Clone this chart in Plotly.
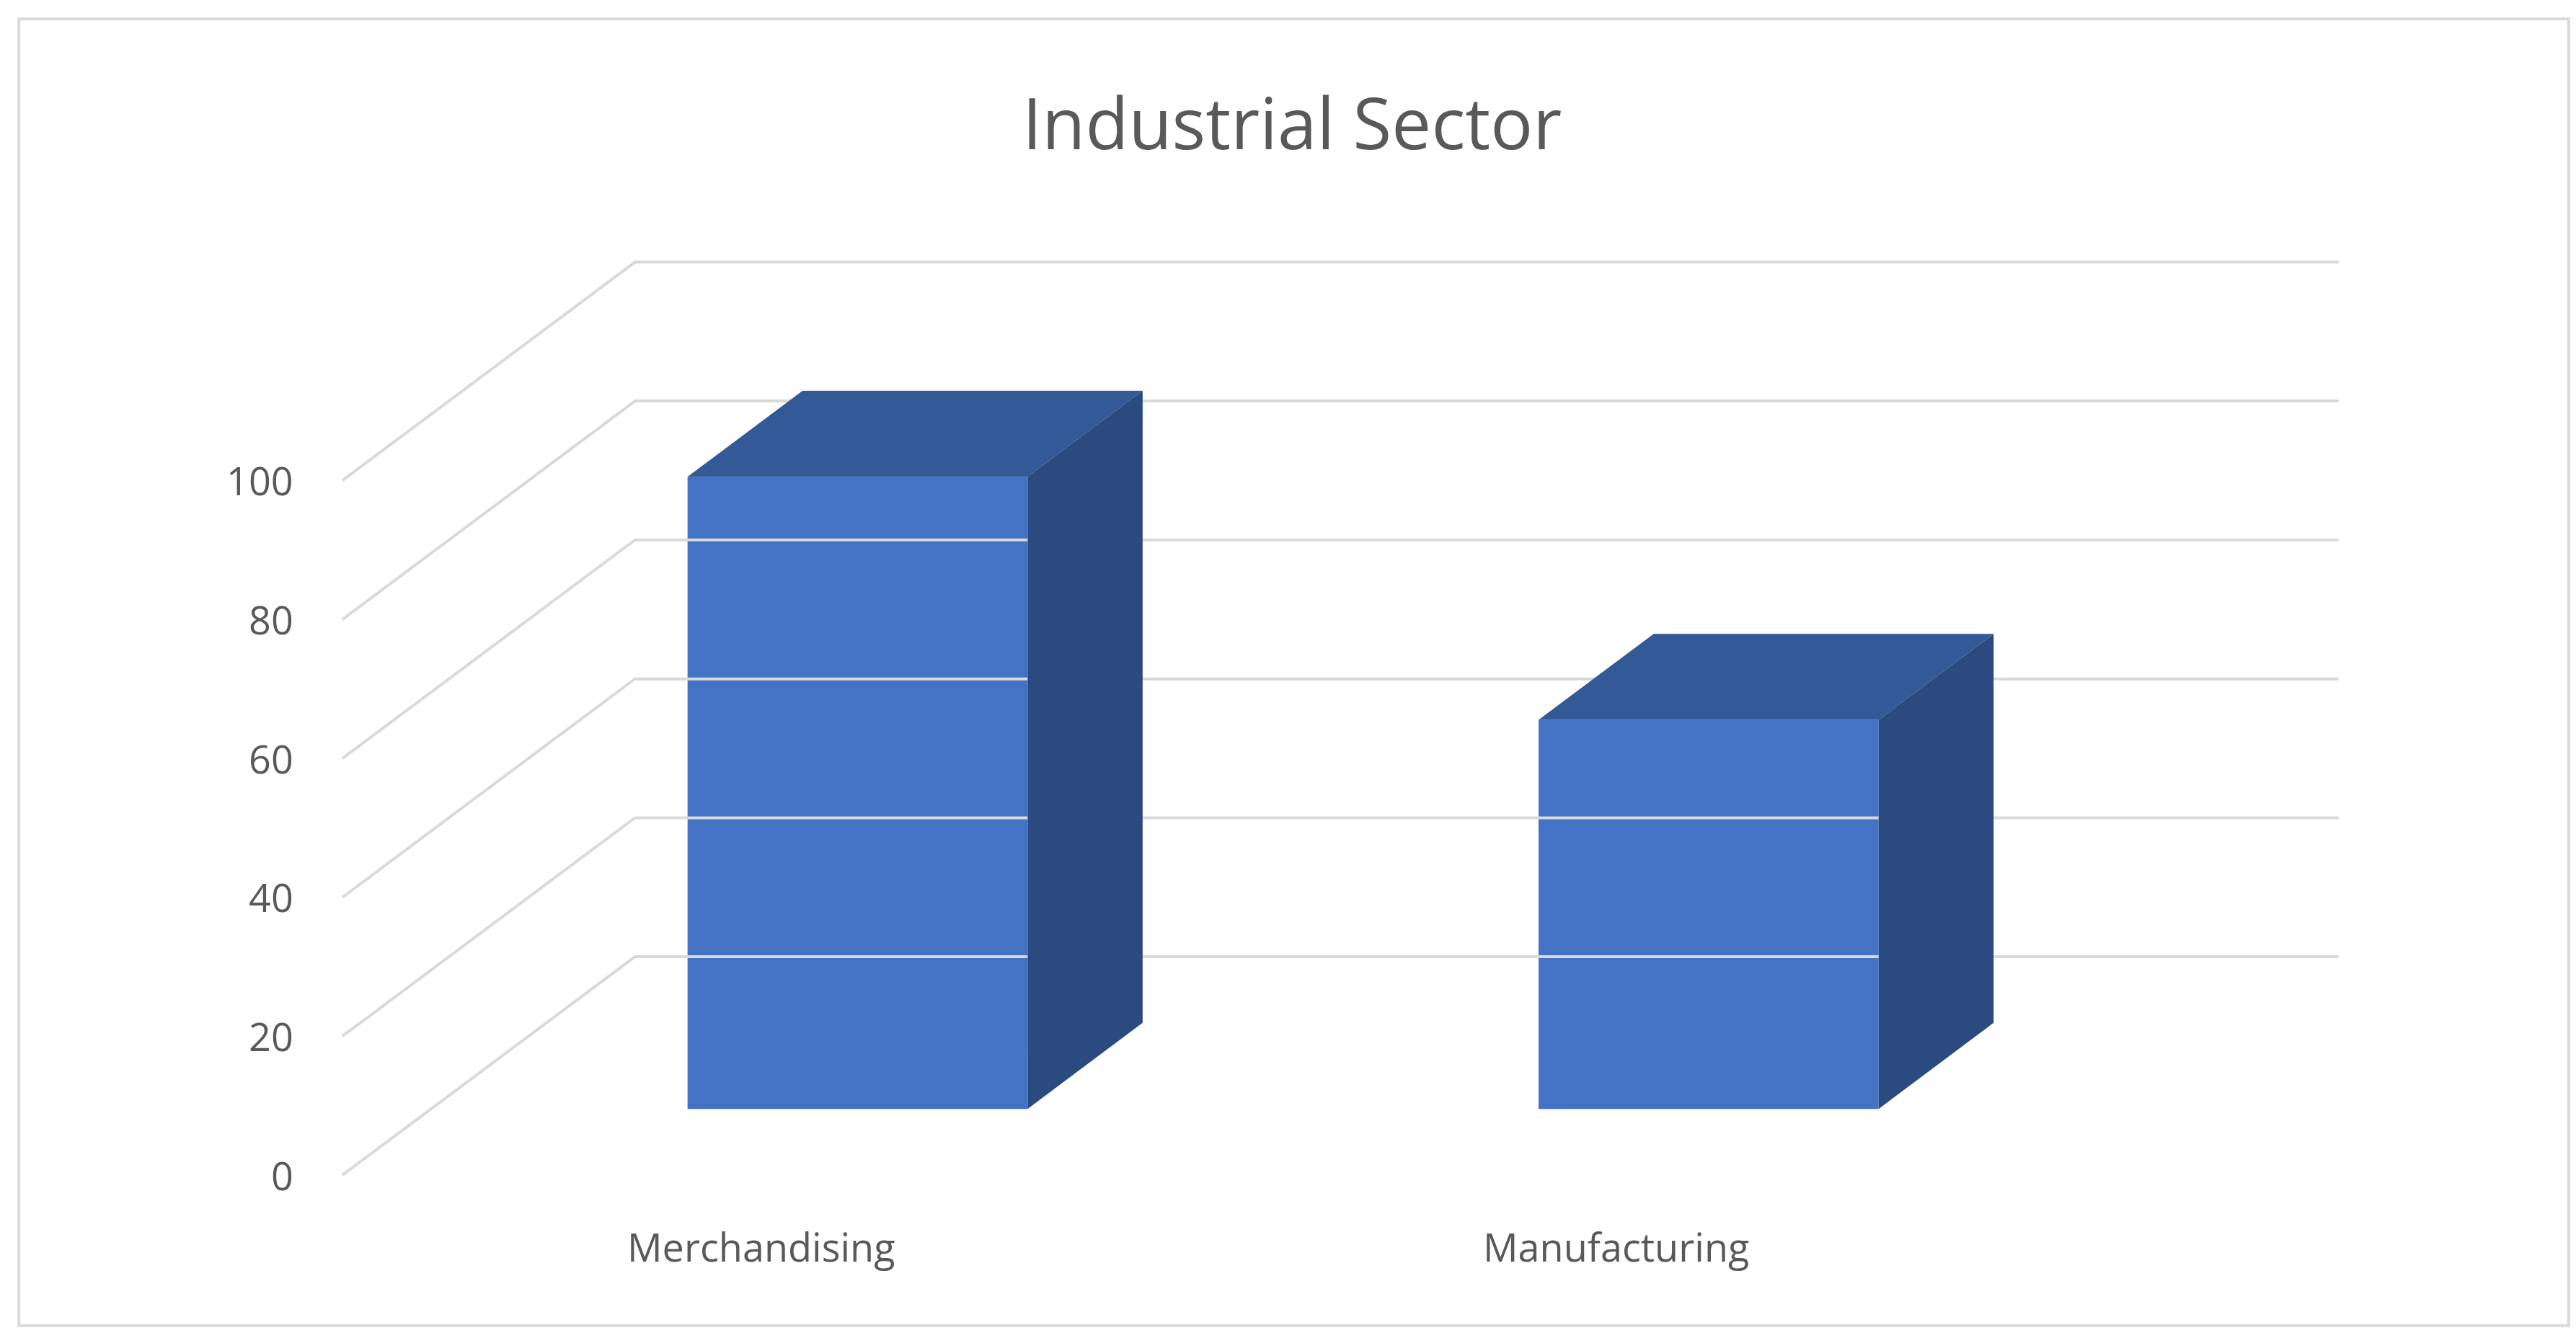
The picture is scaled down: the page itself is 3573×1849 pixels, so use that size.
import plotly.graph_objects as go

categories = ["Merchandising", "Manufacturing"]
values = [91, 56]
tick_values = [0, 20, 40, 60, 80, 100]

# layout geometry (reference pixel space, 1568x806), y in value units
K = 4.2                      # px per unit
W, H = 1568, 806
Y0PX = 707                   # pixel row of value 0 at front
DEPTH_X, DEPTH_Y = 178, 132 / K   # full floor depth offset
BAR_OFF_Y = 40 / K           # bar front sits this far back
BDX, BDY = 70, 52 / K        # bar depth
centers = [518.5, 1036.5]
BW = 207

fig = go.Figure()

# grid: side wall diagonals and back wall lines
for v in tick_values:
    fig.add_trace(go.Scatter(x=[205, 383, 1420], y=[v, v + DEPTH_Y, v + DEPTH_Y],
                             mode="lines", line=dict(color="#D9D9D9", width=4),
                             hoverinfo="skip", showlegend=False))

front = "#4472C4"
top = "#335A96"
side = "#2A4A80"

fig.add_trace(go.Bar(x=centers, y=values, base=[BAR_OFF_Y] * len(values), width=BW,
                     marker=dict(color=front, line=dict(width=0)), showlegend=False))

for c, v in zip(centers, values):
    x0, x1 = c - BW / 2, c + BW / 2
    t = BAR_OFF_Y + v
    b = BAR_OFF_Y
    fig.add_trace(go.Scatter(x=[x0, x1, x1 + BDX, x0 + BDX, x0], y=[t, t, t + BDY, t + BDY, t],
                             fill="toself", fillcolor=top, mode="lines", line=dict(width=0),
                             hoverinfo="skip", showlegend=False))
    fig.add_trace(go.Scatter(x=[x1, x1, x1 + BDX, x1 + BDX, x1], y=[b, t, t + BDY, b + BDY, b],
                             fill="toself", fillcolor=side, mode="lines", line=dict(width=0),
                             hoverinfo="skip", showlegend=False))

font = "Open Sans, Liberation Sans, sans-serif"
ann = []
for v in tick_values:
    ann.append(dict(x=176, y=v, text=str(v), showarrow=False, xanchor="right",
                    font=dict(size=54, color="#595959", family=font)))
for c, name in zip([460, 980], categories):
    ann.append(dict(x=c, y=(Y0PX - 750) / K, text=name, showarrow=False,
                    font=dict(size=54, color="#595959", family=font)))
ann.append(dict(x=783, y=(Y0PX - 70) / K, text="Industrial Sector", showarrow=False,
                font=dict(size=98, color="#595959", family=font)))

fig.update_layout(
    width=3573, height=1849, margin=dict(l=0, r=0, t=0, b=0),
    paper_bgcolor="white", plot_bgcolor="white", annotations=ann,
    xaxis=dict(range=[0, W], visible=False, fixedrange=True),
    yaxis=dict(range=[(Y0PX - H) / K, Y0PX / K], visible=False, fixedrange=True),
    shapes=[dict(type="rect", xref="x", yref="y", x0=8, x1=W - 8,
                 y0=(Y0PX - 798) / K, y1=(Y0PX - 8) / K,
                 line=dict(color="#D9D9D9", width=4))],
)
fig.write_html("out.html")
